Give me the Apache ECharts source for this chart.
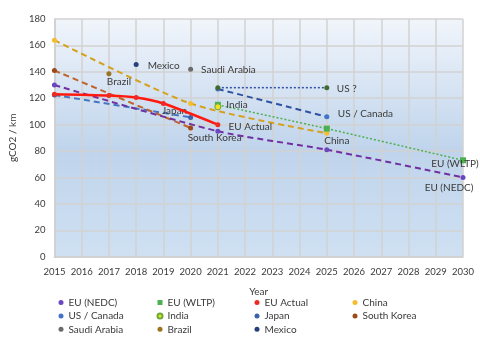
<!DOCTYPE html>
<html>
<head>
<meta charset="utf-8">
<script src="https://cdn.jsdelivr.net/npm/echarts@6/dist/echarts.min.js"></script>
<style>
  html, body { margin: 0; padding: 0; background: #ffffff; }
  #chart { width: 480px; height: 339px; }
</style>
</head>
<body>
<div id="chart"></div>
<script>
// Passenger-car CO2 standards, gCO2/km, by year
const euNedc     = [[2015, 130], [2021, 95], [2025, 81], [2030, 60]];
const euWltp     = [[2021, 115], [2025, 97], [2030, 73]];
const euActual   = [[2015, 123], [2017, 122], [2018, 120.5], [2019, 116], [2021, 100]];
const china      = [[2015, 164], [2020, 116], [2025, 93.5]];
const usCanada   = [[2021, 127], [2025, 106]];
const india      = [[2021, 113.5]];
const japan      = [[2015, 122.5], [2020, 105.5]];
const southKorea = [[2015, 141], [2020, 97.5]];
const saudi      = [[2020, 142]];
const brazil     = [[2017, 138.5]];
const mexico     = [[2018, 145.5]];
const usUnknown  = [[2021, 128], [2025, 128]];

const yearMin = 2015, yearMax = 2030;
const yMin = 0, yMax = 180, yStep = 20;

const FONT = 'Lato';
const TEXT = '#3a3a3a';

// Attach a text label to one point of a series
function tag(points, index, text, offset, align) {
  return points.map((p, i) => {
    if (i !== index) return p;
    return {
      value: p,
      label: {
        show: true, position: 'inside', formatter: text,
        offset: offset, align: align || 'center', verticalAlign: 'middle',
        color: TEXT, fontFamily: FONT, fontSize: 10
      }
    };
  });
}

function dashed(name, data, lineColor, dotColor, extra) {
  return Object.assign({
    name: name, type: 'line', data: data, smooth: 0.25,
    symbol: 'circle', symbolSize: 5,
    itemStyle: { color: dotColor },
    lineStyle: { color: lineColor, width: 2, type: [6, 4] },
    emphasis: { disabled: true }
  }, extra || {});
}

function point(name, data, color, extra) {
  return Object.assign({
    name: name, type: 'line', data: data,
    symbol: 'circle', symbolSize: 5,
    itemStyle: { color: color },
    lineStyle: { width: 0 },
    emphasis: { disabled: true }
  }, extra || {});
}

const chart = echarts.init(document.getElementById('chart'), null, { renderer: 'canvas' });

const legendBase = {
  orient: 'vertical', top: 296, itemWidth: 5, itemHeight: 5, itemGap: 0.4,
  icon: 'circle', selectedMode: false, padding: 0,
  textStyle: { fontFamily: FONT, fontSize: 10, color: TEXT, lineHeight: 13 }
};

chart.setOption({
  animation: false,
  backgroundColor: '#ffffff',
  grid: {
    left: 48.3, right: 17, top: 19, bottom: 82.3, show: true, borderWidth: 0,
    backgroundColor: new echarts.graphic.LinearGradient(0, 0, 0, 1, [
      { offset: 0, color: '#f1f5fb' },
      { offset: 0.55, color: '#bfd4ec' },
      { offset: 1, color: '#cfe0f2' }
    ])
  },
  legend: [
    Object.assign({}, legendBase, { left: 58.5, data: ['EU (NEDC)', 'US / Canada', 'Saudi Arabia'] }),
    Object.assign({}, legendBase, { left: 156.5, data: [{ name: 'EU (WLTP)', icon: 'rect' }, 'India', 'Brazil'] }),
    Object.assign({}, legendBase, { left: 254.5, data: ['EU Actual', 'Japan', 'Mexico'] }),
    Object.assign({}, legendBase, { left: 352.5, data: ['China', 'South Korea'] })
  ],
  xAxis: {
    type: 'value', min: yearMin, max: yearMax, interval: 1,
    name: 'Year', nameLocation: 'middle', nameGap: 30,
    nameTextStyle: { fontFamily: FONT, fontSize: 10, color: TEXT },
    axisLine: { show: true, lineStyle: { color: '#cfcfcf', width: 1.5 } },
    axisTick: { show: false },
    axisLabel: { fontFamily: FONT, fontSize: 9.5, color: TEXT, margin: 10, formatter: v => String(v) },
    splitLine: { show: true, lineStyle: { color: '#d2d2d2', width: 1.5 } }
  },
  yAxis: {
    type: 'value', min: yMin, max: yMax, interval: yStep,
    name: 'gCO2 / km', nameLocation: 'middle', nameGap: 33, nameRotate: 90,
    nameTextStyle: { fontFamily: FONT, fontSize: 10, color: TEXT },
    axisLine: { show: true, lineStyle: { color: '#cfcfcf', width: 1.5 } },
    axisTick: { show: false },
    axisLabel: { fontFamily: FONT, fontSize: 9.5, color: TEXT, margin: 9 },
    splitLine: { show: true, lineStyle: { color: '#d2d2d2', width: 1.5 } }
  },
  series: [
    dashed('EU (NEDC)', tag(euNedc, 3, 'EU (NEDC)', [-14, 10.3]), '#7030a0', '#6a46c0', { z: 3 }),
    {
      name: 'EU (WLTP)', type: 'line', data: tag(euWltp, 2, 'EU (WLTP)', [-8, 3.4]), smooth: 0.25,
      symbol: 'rect', symbolSize: 6,
      itemStyle: { color: '#4caf50' },
      lineStyle: { color: '#4caf50', width: 1.5, type: [2, 2] },
      emphasis: { disabled: true }, z: 3
    },
    dashed('China', tag(china, 2, 'China', [10, 7.4]), '#d6a21e', '#f5bd2e', { z: 2 }),
    dashed('US / Canada', tag(usCanada, 1, 'US / Canada', [11, -2.7], 'left'), '#2f52a0', '#4472c4', { z: 2 }),
    {
      name: 'US ?', type: 'line', data: tag(usUnknown, 1, 'US ?', [10, 1.6], 'left'),
      symbol: 'circle', symbolSize: 5,
      itemStyle: { color: '#3f6b30' },
      lineStyle: { color: '#2f4f9f', width: 1.5, type: [2, 2] },
      emphasis: { disabled: true }, z: 2
    },
    point('India', tag(india, 0, 'India', [8.5, -2], 'left'), '#f5e21e', {
      symbolSize: 6, itemStyle: { color: '#f5e21e', borderColor: '#6aaa3a', borderWidth: 1 }, z: 4
    }),
    dashed('Japan', tag(japan, 1, 'Japan', [-16, -6.5]), '#4676c0', '#3a63a8', { z: 2 }),
    dashed('South Korea', tag(southKorea, 1, 'South Korea', [24, 10.3]), '#c0632a', '#9c4a1a', { z: 2 }),
    point('Saudi Arabia', tag(saudi, 0, 'Saudi Arabia', [10.5, 1], 'left'), '#6b6b6b'),
    point('Brazil', tag(brazil, 0, 'Brazil', [10, 7.7]), '#9a7420'),
    point('Mexico', tag(mexico, 0, 'Mexico', [11.5, 1.5], 'left'), '#27407a'),
    {
      name: 'EU Actual', type: 'line', data: tag(euActual, 4, 'EU Actual', [10.7, 1.7], 'left'), smooth: 0.25,
      symbol: 'circle', symbolSize: 5,
      itemStyle: { color: '#ee2a24' },
      lineStyle: { color: '#ff1a10', width: 2.5 },
      emphasis: { disabled: true }, z: 5
    }
  ]
});
</script>
</body>
</html>
